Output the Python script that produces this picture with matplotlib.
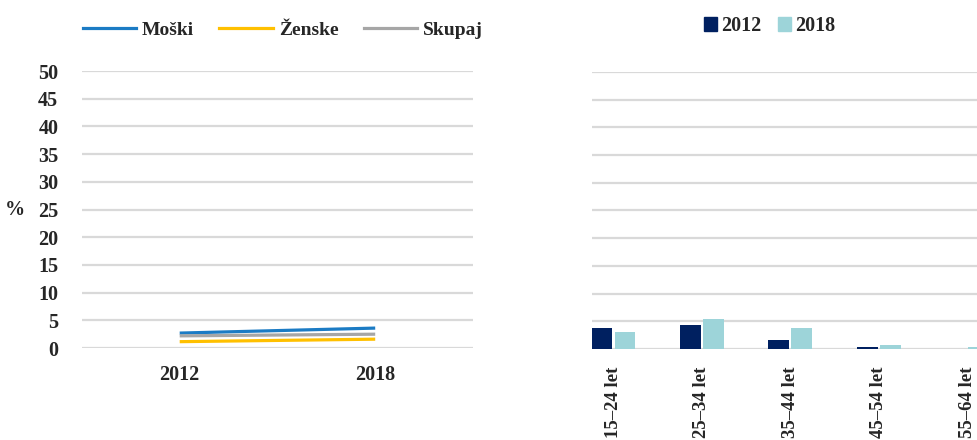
import numpy as np
import matplotlib
matplotlib.use('Agg')
import matplotlib.pyplot as plt
from matplotlib.patches import Patch
from matplotlib.lines import Line2D

plt.rcParams['font.family'] = ['Liberation Serif', 'DejaVu Serif']
plt.rcParams['font.weight'] = 'bold'

# left chart - lines by sex
years = ['2012', '2018']
moski = [2.7, 3.6]
zenske = [1.15, 1.6]
skupaj = [2.2, 2.5]

# right chart - bars by age group
ages = ['15–24 let', '25–34 let', '35–44 let', '45–54 let', '55–64 let']
val_2012 = [3.8, 4.4, 1.6, 0.4, 0.0]
val_2018 = [3.1, 5.4, 3.7, 0.65, 0.35]

txt = '#262626'
grid = '#D9D9D9'
c_m, c_z, c_s = '#1B7BC4', '#FFC000', '#A6A6A6'
c_12, c_18 = '#002060', '#9DD4D9'
fs = 14.5

fig = plt.figure(figsize=(9.78, 4.4), dpi=100)

#------------------------------------------------------------
# left
ax1 = fig.add_axes([0.0838, 0.209, 0.3998, 0.6295])
x = np.arange(len(years))
ax1.plot(x, moski, color=c_m, lw=2.3, solid_capstyle='butt')
ax1.plot(x, skupaj, color=c_s, lw=2.3, solid_capstyle='butt')
ax1.plot(x, zenske, color=c_z, lw=2.3, solid_capstyle='butt')
ax1.set_xlim(-0.5, 1.5)
ax1.set_ylim(0, 50)
ax1.set_yticks(np.arange(0, 51, 5))
ax1.yaxis.grid(True, color=grid, lw=1.6)
ax1.set_axisbelow(True)
ax1.set_xticks(x)
ax1.set_xticklabels(years)
for s in ax1.spines.values():
    s.set_visible(False)
ax1.tick_params(length=0, labelsize=fs, colors=txt)
ax1.tick_params(axis='y', pad=17)
ax1.tick_params(axis='x', pad=12)
ax1.set_ylabel('%', rotation=0, fontsize=fs, fontweight='bold', color=txt,
               labelpad=17, va='center')

handles = [Line2D([], [], color=c_m, lw=2.3), Line2D([], [], color=c_z, lw=2.3),
           Line2D([], [], color=c_s, lw=2.3)]
ax1.legend(handles, ['Moški', 'Ženske', 'Skupaj'], ncol=3, frameon=False,
           loc='center left', bbox_to_anchor=(0.002, 1.148), fontsize=14,
           handlelength=2.75, handletextpad=0.3, columnspacing=1.3,
           labelcolor=txt, borderaxespad=0, borderpad=0)

#------------------------------------------------------------
# right
ax2 = fig.add_axes([0.605, 0.207, 0.395, 0.6295])
xa = np.arange(len(ages))
w = 0.237
ax2.bar(xa - w / 2 - 0.012, val_2012, w, color=c_12)
ax2.bar(xa + w / 2 + 0.012, val_2018, w, color=c_18)
ax2.set_xlim(-0.246, 4.12)
ax2.set_ylim(0, 50)
ax2.set_yticks(np.arange(0, 51, 5))
ax2.set_yticklabels([])
ax2.yaxis.grid(True, color=grid, lw=1.6)
ax2.set_axisbelow(True)
ax2.set_xticks(xa)
ax2.set_xticklabels(ages, rotation=90)
for s in ax2.spines.values():
    s.set_visible(False)
ax2.tick_params(length=0, labelsize=fs, colors=txt)
ax2.tick_params(axis='x', labelsize=13.5, pad=13)

h2 = [Patch(color=c_12), Patch(color=c_18)]
ax2.legend(h2, ['2012', '2018'], ncol=2, frameon=False,
           loc='center left', bbox_to_anchor=(0.29, 1.165), fontsize=fs,
           handlelength=0.68, handleheight=0.68, handletextpad=0.2,
           columnspacing=0.8, labelcolor=txt, borderaxespad=0, borderpad=0)

plt.savefig('out.png', dpi=100)
